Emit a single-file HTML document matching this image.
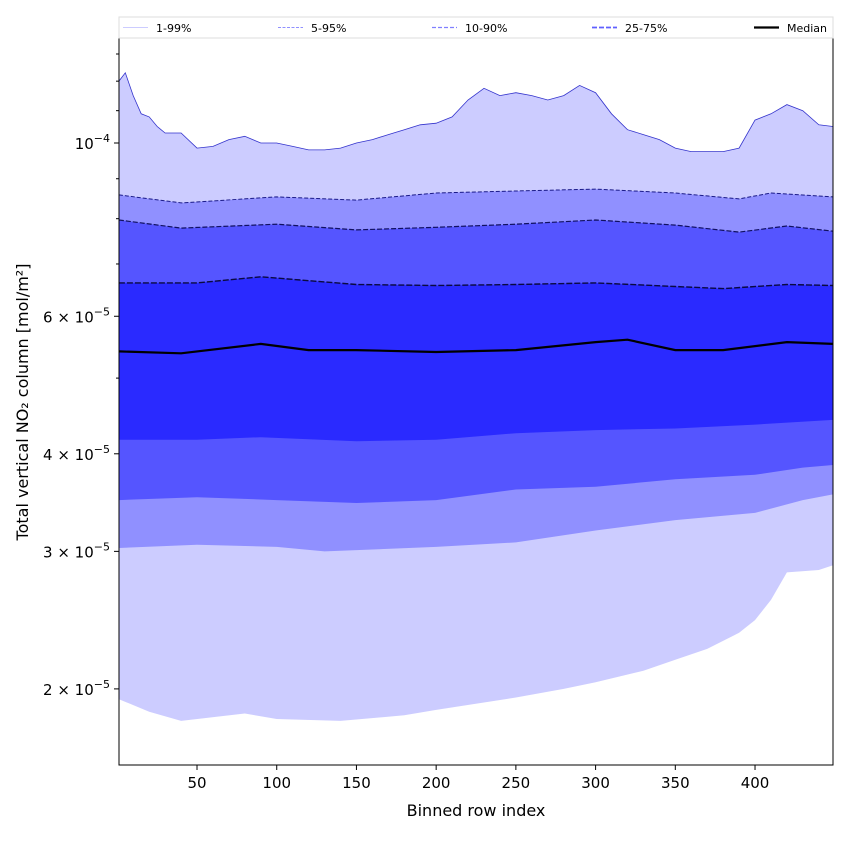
<!DOCTYPE html>
<html><head><meta charset="utf-8"><style>
body{margin:0;background:#fff;font-family:"Liberation Sans","DejaVu Sans",sans-serif;}
svg text{font-family:"DejaVu Sans","Liberation Sans",sans-serif;}
</style></head><body>
<svg id="c" width="850" height="850" xmlns="http://www.w3.org/2000/svg"></svg>
<script>
const x99=[1,5,10,15,20,25,30,40,50,60,70,80,90,100,110,120,130,140,150,160,170,180,190,200,210,220,230,240,250,260,270,280,290,300,310,320,330,340,350,360,370,380,390,400,410,420,430,440,449];
const p99=[12.0,12.3,11.5,10.9,10.8,10.5,10.3,10.3,9.85,9.9,10.1,10.2,10.0,10.0,9.9,9.8,9.8,9.85,10.0,10.1,10.25,10.4,10.55,10.6,10.8,11.35,11.75,11.5,11.6,11.5,11.35,11.5,11.85,11.6,10.9,10.4,10.25,10.1,9.85,9.75,9.75,9.75,9.85,10.7,10.9,11.2,11.0,10.55,10.5];
const x95=[1,40,100,150,200,250,300,350,390,410,449];
const p95=[8.58,8.38,8.53,8.45,8.63,8.68,8.73,8.63,8.48,8.63,8.53];
const x90=[1,40,100,150,200,250,300,350,390,420,449];
const p90=[7.97,7.78,7.87,7.74,7.8,7.87,7.97,7.85,7.69,7.83,7.71];
const x75=[1,50,90,150,200,250,300,350,380,420,449];
const p75=[6.62,6.62,6.74,6.59,6.57,6.59,6.62,6.55,6.51,6.59,6.57];
const x50=[1,40,90,120,150,200,250,300,320,350,380,420,449];
const p50=[5.41,5.38,5.53,5.43,5.43,5.40,5.43,5.56,5.6,5.43,5.43,5.56,5.53];
const x25=[1,50,90,150,200,250,300,350,400,449];
const p25=[4.17,4.17,4.2,4.15,4.17,4.25,4.29,4.31,4.36,4.42];
const x10=[1,50,100,150,200,250,300,350,400,430,449];
const p10=[3.49,3.52,3.49,3.46,3.49,3.6,3.63,3.71,3.76,3.84,3.87];
const x05=[1,50,100,130,200,250,300,350,400,430,449];
const p05=[3.03,3.06,3.04,3.0,3.04,3.08,3.19,3.29,3.36,3.49,3.55];
const x01=[1,20,40,80,100,140,180,200,250,280,300,330,350,370,390,400,410,420,440,449];
const p01=[1.94,1.87,1.82,1.86,1.83,1.82,1.85,1.88,1.95,2.0,2.04,2.11,2.18,2.25,2.36,2.45,2.6,2.82,2.84,2.88];
const xTicks=[50,100,150,200,250,300,350,400];
const yTicks=[{v:10,m:"10",e:"−4",pre:""},{v:6,m:"10",e:"−5",pre:"6 × "},{v:4,m:"10",e:"−5",pre:"4 × "},{v:3,m:"10",e:"−5",pre:"3 × "},{v:2,m:"10",e:"−5",pre:"2 × "}];

const L=119,R=833,T=38,B=765;
const xs=v=>117.3+v*1.5943;
const ys=v=>143-Math.log10(v/10)*781;
const NS="http://www.w3.org/2000/svg";
const svg=document.getElementById('c');
function mk(t,a,p){const e=document.createElementNS(NS,t);for(const k in a)e.setAttribute(k,a[k]);(p||svg).appendChild(e);return e;}
const clip=mk('clipPath',{id:'cl'});mk('rect',{x:L,y:T,width:R-L,height:B-T},clip);
const g=mk('g',{'clip-path':'url(#cl)'});
function pts(xa,ya){return xa.map((x,i)=>xs(x).toFixed(1)+','+ys(ya[i]).toFixed(1));}
function band(xu,yu,xl,yl,col,name){
  const p=pts(xu,yu).concat(pts(xl,yl).reverse());
  const e=mk('polygon',{points:p.join(' '),fill:col},g);
  
  
}
band(x99,p99,x01,p01,'#ccccff','band-1-99');
band(x95,p95,x05,p05,'#9090ff','band-5-95');
band(x90,p90,x10,p10,'#5555ff','band-10-90');
band(x75,p75,x25,p25,'#2a2aff','band-25-75');
function line(xa,ya,col,w,dash,name){
  const e=mk('polyline',{points:pts(xa,ya).join(' '),fill:'none',stroke:col,'stroke-width':w,'stroke-dasharray':dash||'none'},g);
  
  
}
line(x99,p99,'#3333cc',0.8,'','line-p99');
line(x95,p95,'#1a1a88',1,'4,2','line-p95');
line(x90,p90,'#101060',1.2,'5,2','line-p90');
line(x75,p75,'#0a0a40',1.4,'6,2','line-p75');
line(x50,p50,'#000',2.2,'','line-median');
mk('rect',{x:L,y:T,width:R-L,height:B-T,fill:'none',stroke:'#000','stroke-width':1});
xTicks.forEach(t=>{const x=xs(t);mk('line',{x1:x,x2:x,y1:B,y2:B+5,stroke:'#000'});
 const e=mk('text',{x:x,y:B+23,'text-anchor':'middle','font-size':15});e.textContent=t;
 });
yTicks.forEach(t=>{const y=ys(t.v);mk('line',{x1:L-5,x2:L,y1:y,y2:y,stroke:'#000'});
 const e=mk('text',{x:L-9,y:y+6,'text-anchor':'end','font-size':15});
 
 e.appendChild(document.createTextNode(t.pre+t.m));
 const s=document.createElementNS(NS,'tspan');s.setAttribute('dy','-7');s.setAttribute('font-size','11');s.textContent=t.e;e.appendChild(s);});
[5,7,8,9,11,12,13].forEach(v=>{const y=ys(v);if(y>T&&y<B)mk('line',{x1:L-3,x2:L,y1:y,y2:y,stroke:'#000'});});
let e=mk('text',{x:476,y:816,'text-anchor':'middle','font-size':16});e.textContent='Binned row index';

e=mk('text',{x:0,y:0,'text-anchor':'middle','font-size':16,transform:'translate(28,402) rotate(-90)'});e.textContent='Total vertical NO₂ column [mol/m²]';

const lg=mk('g',{});
mk('rect',{x:119,y:17,width:714,height:21,fill:'#fff',stroke:'#ddd'},lg);
const ent=[{x:123,t:'1-99%',c:'#ccccff',d:'',w:1},{x:278,t:'5-95%',c:'#9090ff',d:'3,1.5',w:1},{x:432,t:'10-90%',c:'#8080ff',d:'4,2',w:1.3},{x:592,t:'25-75%',c:'#6060ff',d:'5,2',w:1.8},{x:754,t:'Median',c:'#000',d:'',w:2.2}];
ent.forEach(o=>{mk('line',{x1:o.x,x2:o.x+25,y1:27.5,y2:27.5,stroke:o.c,'stroke-width':o.w,'stroke-dasharray':o.d||'none'},lg);
 const t=mk('text',{x:o.x+33,y:32,'font-size':11},lg);t.textContent=o.t;
 });
</script></body></html>
